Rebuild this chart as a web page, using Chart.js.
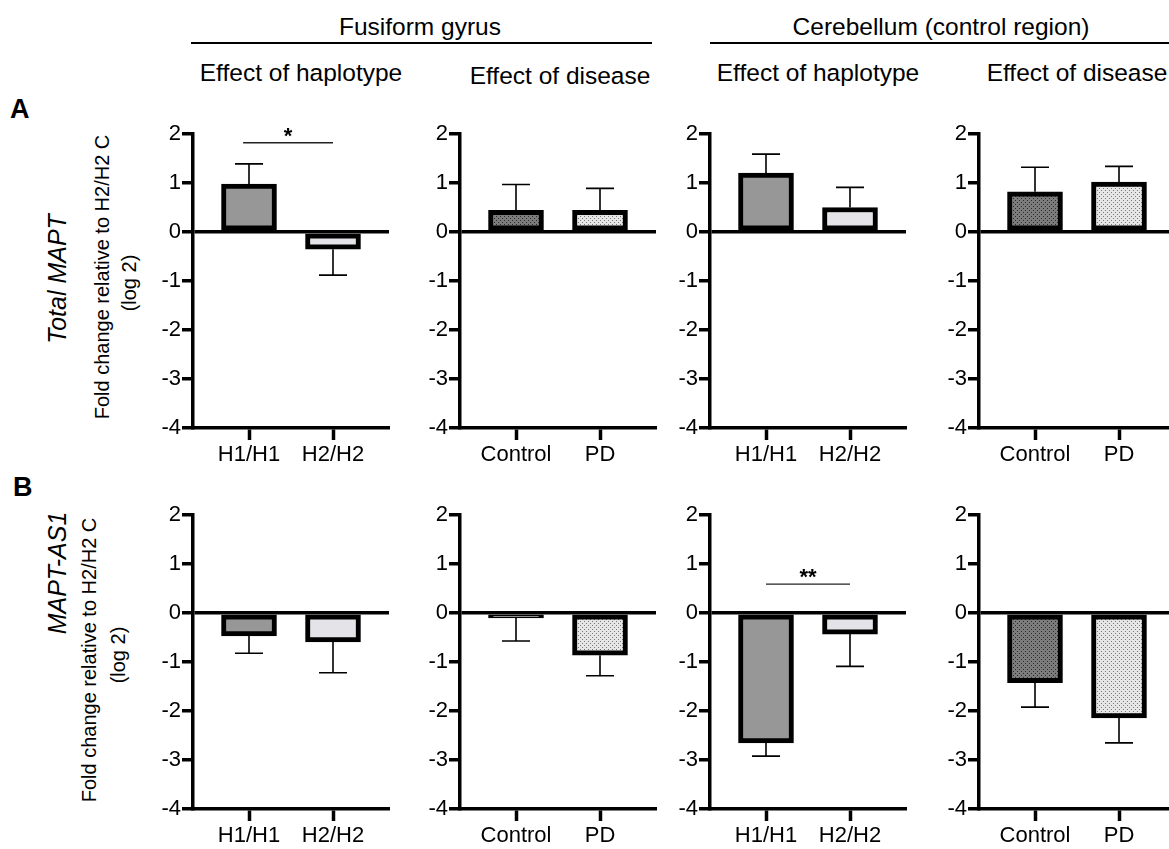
<!DOCTYPE html>
<html>
<head>
<meta charset="utf-8">
<script src="https://cdn.jsdelivr.net/npm/chart.js@4.4.0/dist/chart.umd.min.js"></script>
<style>
  html, body { margin: 0; padding: 0; background: #fff; overflow: hidden; }
  body { width: 1169px; height: 849px; position: relative; font-family: "Liberation Sans", Arial, sans-serif; color: #000; }
  .txt { position: absolute; white-space: nowrap; line-height: 1; }
  .hdr { font-size: 24.5px; transform: translateX(-50%); }
  .rule { position: absolute; height: 2px; background: #000; }
  .letter { font-size: 27px; font-weight: bold; }
  .ytitle { position: absolute; white-space: nowrap; line-height: 1; transform: translate(-50%, -50%) rotate(-90deg); }
  .gene { font-size: 25px; font-style: italic; }
  .fold { font-size: 20px; }
  .box { position: absolute; }
</style>
</head>
<body>
  <!-- region headers -->
  <div class="txt hdr" style="left:420px; top:15px;">Fusiform gyrus</div>
  <div class="rule" style="left:191px; top:42px; width:461px;"></div>
  <div class="txt hdr" style="left:941px; top:15px;">Cerebellum (control region)</div>
  <div class="rule" style="left:710px; top:42px; width:459px;"></div>

  <div class="txt hdr" style="left:301px; top:61px;">Effect of haplotype</div>
  <div class="txt hdr" style="left:560px; top:64px;">Effect of disease</div>
  <div class="txt hdr" style="left:818px; top:61px;">Effect of haplotype</div>
  <div class="txt hdr" style="left:1077px; top:61px;">Effect of disease</div>

  <div class="txt letter" style="left:10px; top:96px;">A</div>
  <div class="txt letter" style="left:13px; top:474px;">B</div>

  <!-- y titles -->
  <div class="ytitle gene" style="left:57px; top:279px;">Total MAPT</div>
  <div class="ytitle fold" style="left:102px; top:277px;">Fold change relative to H2/H2 C</div>
  <div class="ytitle fold" style="left:129px; top:283px;">(log 2)</div>

  <div class="ytitle gene" style="left:57px; top:573px;">MAPT-AS1</div>
  <div class="ytitle fold" style="left:89px; top:660px;">Fold change relative to H2/H2 C</div>
  <div class="ytitle fold" style="left:118px; top:655px;">(log 2)</div>

<script>
// categories and ticks
const haplotypeLabels = ['H1/H1', 'H2/H2'];
const diseaseLabels = ['Control', 'PD'];
const yTicks = [2, 1, 0, -1, -2, -3, -4];

// A: Total MAPT, fold change (log2), mean and error
const maptFgHap = [0.98, -0.35];
const maptFgHapErr = [0.41, 0.53];
const maptFgDis = [0.44, 0.44];
const maptFgDisErr = [0.53, 0.45];
const maptCbHap = [1.2, 0.5];
const maptCbHapErr = [0.39, 0.41];
const maptCbDis = [0.82, 1.02];
const maptCbDisErr = [0.5, 0.32];

// B: MAPT-AS1, fold change (log2), mean and error
const as1FgHap = [-0.47, -0.59];
const as1FgHapErr = [0.35, 0.63];
const as1FgDis = [-0.1, -0.86];
const as1FgDisErr = [0.47, 0.42];
const as1CbHap = [-2.65, -0.43];
const as1CbHapErr = [0.27, 0.66];
const as1CbDis = [-1.42, -2.14];
const as1CbDisErr = [0.5, 0.51];

// significance brackets
const sigMaptFgHap = { text: '*', from: 0.93, to: 2, y: 1.82 };
const sigAs1CbHap = { text: '**', from: 1, to: 2, y: 0.59 };

Chart.defaults.font.family = '"Liberation Sans", Arial, sans-serif';
Chart.defaults.color = '#000';

// dotted fill like the GraphPad pattern
function dotted(base, dot) {
    const c = document.createElement('canvas');
    c.width = 4; c.height = 4;
    const g = c.getContext('2d');
    g.fillStyle = base;
    g.fillRect(0, 0, 4, 4);
    g.fillStyle = dot;
    g.fillRect(0, 0, 1, 1);
    g.fillRect(2, 2, 1, 1);
    return g.createPattern(c, 'repeat');
}

const hapFills = ['#979797', '#e4e4e8'];
const disFills = [dotted('#7c7c7c', '#2a2a2a'), dotted('#e6e6e6', '#777777')];

const colX = [193, 460, 710, 979];
const rowTop = [134, 515];
const axisW = 3.5;

const panels = [
    { row: 0, col: 0, labels: haplotypeLabels, values: maptFgHap, err: maptFgHapErr, fills: hapFills, sig: sigMaptFgHap },
    { row: 0, col: 1, labels: diseaseLabels, values: maptFgDis, err: maptFgDisErr, fills: disFills },
    { row: 0, col: 2, labels: haplotypeLabels, values: maptCbHap, err: maptCbHapErr, fills: hapFills },
    { row: 0, col: 3, labels: diseaseLabels, values: maptCbDis, err: maptCbDisErr, fills: disFills },
    { row: 1, col: 0, labels: haplotypeLabels, values: as1FgHap, err: as1FgHapErr, fills: hapFills },
    { row: 1, col: 1, labels: diseaseLabels, values: as1FgDis, err: as1FgDisErr, fills: disFills },
    { row: 1, col: 2, labels: haplotypeLabels, values: as1CbHap, err: as1CbHapErr, fills: hapFills, sig: sigAs1CbHap },
    { row: 1, col: 3, labels: diseaseLabels, values: as1CbDis, err: as1CbDisErr, fills: disFills }
];

// error bars (one-sided, away from zero) and significance marks
function overlay(p) {
    return {
        id: 'overlay',
        afterDatasetsDraw(chart) {
            const ctx = chart.ctx;
            const xs = chart.scales.x, ys = chart.scales.y;
            ctx.save();
            ctx.strokeStyle = '#000';
            ctx.lineWidth = 1.6;
            p.values.forEach((v, i) => {
                const e = p.err[i];
                const px = xs.getPixelForValue(i + 1);
                const y0 = ys.getPixelForValue(v);
                const y1 = ys.getPixelForValue(v + (v >= 0 ? e : -e));
                ctx.beginPath();
                ctx.moveTo(px, y0);
                ctx.lineTo(px, y1);
                ctx.moveTo(px - 14, y1);
                ctx.lineTo(px + 14, y1);
                ctx.stroke();
            });
            if (p.sig) {
                const xa = xs.getPixelForValue(p.sig.from);
                const xb = xs.getPixelForValue(p.sig.to);
                const ly = ys.getPixelForValue(p.sig.y);
                ctx.strokeStyle = '#222';
                ctx.lineWidth = 1.4;
                ctx.beginPath();
                ctx.moveTo(xa, ly);
                ctx.lineTo(xb, ly);
                ctx.stroke();
                ctx.fillStyle = '#000';
                ctx.font = 'bold 22px "Liberation Sans", Arial, sans-serif';
                ctx.textAlign = 'center';
                ctx.textBaseline = 'alphabetic';
                ctx.fillText(p.sig.text, (xa + xb) / 2, ly);
            }
            ctx.restore();
        }
    };
}

panels.forEach(p => {
    const box = document.createElement('div');
    box.className = 'box';
    box.style.left = (colX[p.col] - 60) + 'px';
    box.style.top = (rowTop[p.row] - 30) + 'px';
    const canvas = document.createElement('canvas');
    canvas.width = 266;
    canvas.height = 374;
    box.appendChild(canvas);
    document.body.appendChild(box);

    new Chart(canvas, {
        type: 'bar',
        data: {
            datasets: [{
                data: p.values.map((v, i) => ({ x: i + 1, y: v })),
                backgroundColor: p.fills,
                borderColor: '#000',
                borderWidth: 5,
                borderSkipped: false,
                barThickness: 55
            }]
        },
        options: {
            responsive: false,
            animation: false,
            layout: { padding: { top: 30, right: 10, left: 0, bottom: 0 } },
            plugins: {
                legend: { display: false },
                tooltip: { enabled: false }
            },
            scales: {
                x: {
                    type: 'linear',
                    min: 1 / 3,
                    max: 8 / 3,
                    offset: false,
                    afterBuildTicks: s => { s.ticks = [{ value: 1 }, { value: 2 }]; },
                    afterFit: s => { s.height = 50; },
                    ticks: {
                        autoSkip: false,
                        maxRotation: 0,
                        padding: 2,
                        font: { size: 22 },
                        color: '#000',
                        callback: v => p.labels[Math.round(v) - 1]
                    },
                    grid: {
                        offset: false,
                        drawOnChartArea: false,
                        tickLength: 12,
                        tickWidth: axisW,
                        tickColor: '#000'
                    },
                    border: { color: '#000', width: axisW }
                },
                y: {
                    min: -4,
                    max: 2,
                    afterBuildTicks: s => { s.ticks = yTicks.map(v => ({ value: v })); },
                    afterFit: s => { s.width = 60; },
                    ticks: {
                        padding: 1,
                        font: { size: 22 },
                        color: '#000',
                        callback: v => String(v)
                    },
                    grid: {
                        color: c => (c.tick && c.tick.value === 0 ? '#000' : 'rgba(0,0,0,0)'),
                        lineWidth: axisW,
                        tickLength: 11,
                        tickWidth: axisW,
                        tickColor: '#000'
                    },
                    border: { color: '#000', width: axisW }
                }
            }
        },
        plugins: [overlay(p)]
    });
});
</script>
</body>
</html>
